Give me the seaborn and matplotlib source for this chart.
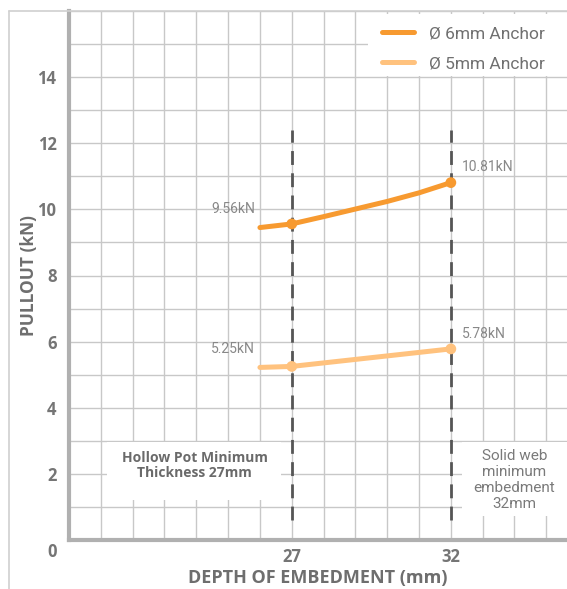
import matplotlib
matplotlib.use("Agg")
import matplotlib.pyplot as plt
import matplotlib.transforms as mtransforms
from matplotlib.patches import Rectangle
from matplotlib.lines import Line2D
import numpy as np
import pandas as pd
import seaborn as sns

# Pull-out curves (depth in mm, load in kN)
depth_6mm = [26, 27, 28, 29, 30, 31, 32]
pullout_6mm = [9.45, 9.56, 9.78, 10.01, 10.24, 10.50, 10.81]
depth_5mm = [26, 27, 32]
pullout_5mm = [5.22, 5.25, 5.78]

# Tested points that carry a value label
key_depths = [27, 32]
key_6mm = [9.56, 10.81]
key_5mm = [5.25, 5.78]

series_names = ["Ø 6mm Anchor", "Ø 5mm Anchor"]
x_ticks = [27, 32]
y_ticks = [0, 2, 4, 6, 8, 10, 12, 14]

C6 = "#F79A30"
C5 = "#FFC27E"
GRID = "#c8c8c8"
SPINE = "#b0b0b0"
TXT = "#757575"
BOLD_FONT = ["Open Sans", "DejaVu Sans"]

sns.set_theme(style="white")
plt.rcParams["font.family"] = ["Roboto", "DejaVu Sans"]

fig = plt.figure(figsize=(5.67, 5.89), dpi=100)
ax = fig.add_axes([69 / 567, 49 / 589, 1 - 69 / 567, (540 - 11) / 589])

curves = pd.concat([
    pd.DataFrame({"depth": depth_6mm, "pullout": pullout_6mm, "anchor": series_names[0]}),
    pd.DataFrame({"depth": depth_5mm, "pullout": pullout_5mm, "anchor": series_names[1]}),
])
points = pd.concat([
    pd.DataFrame({"depth": key_depths, "pullout": key_6mm, "anchor": series_names[0]}),
    pd.DataFrame({"depth": key_depths, "pullout": key_5mm, "anchor": series_names[1]}),
])
palette = {series_names[0]: C6, series_names[1]: C5}

sns.lineplot(data=curves, x="depth", y="pullout", hue="anchor", palette=palette,
             linewidth=3.6, ax=ax, zorder=4, sort=True, estimator=None, legend=False)
sns.scatterplot(data=points, x="depth", y="pullout", hue="anchor", palette=palette,
                s=60, edgecolor="none", ax=ax, zorder=5, legend=False)

ax.set_xlim(20, 35.65)
ax.set_ylim(0, 16)
ax.set_xticks(x_ticks)
ax.set_yticks(y_ticks)
ax.set_xticks(np.arange(20, 36, 1), minor=True)
ax.set_yticks(np.arange(0, 17, 1), minor=True)
ax.grid(which="both", color=GRID, linewidth=1.0, zorder=0)
ax.set_axisbelow(True)
ax.tick_params(which="both", length=0)
ax.tick_params(axis="y", pad=9, labelsize=12, labelcolor=TXT)
ax.tick_params(axis="x", pad=6, labelsize=12, labelcolor=TXT)
for lab in ax.get_xticklabels() + ax.get_yticklabels():
    lab.set_fontweight("bold")
    lab.set_family(BOLD_FONT)
# nudge the "0" label slightly below the baseline
zero = ax.yaxis.get_major_ticks()[0].label1
zero.set_transform(zero.get_transform() + mtransforms.ScaledTranslation(0, -10 / 100, fig.dpi_scale_trans))

for side in ["top", "right"]:
    ax.spines[side].set_visible(False)
for side in ["left", "bottom"]:
    ax.spines[side].set_color(SPINE)
    ax.spines[side].set_linewidth(3)

ax.set_xlabel("DEPTH OF EMBEDMENT (mm)", fontsize=13, fontweight="bold", color="#6e6e6e",
              family=BOLD_FONT, labelpad=2)
ax.set_ylabel("PULLOUT (kN)", fontsize=12.5, fontweight="bold", color="#6e6e6e", family=BOLD_FONT)
ax.yaxis.set_label_coords(-31 / 498, 0.5)

# reference depths
for d in x_ticks:
    ax.plot([d, d], [0.6, 12.4], color="#555555", linewidth=2, dashes=(5, 3), zorder=3)

# note boxes
ax.add_patch(Rectangle((21.2, 1.21), 26.67 - 21.2, 2.97 - 1.21, facecolor="white", edgecolor="none", zorder=1))
ax.text(23.95, 2.25, "Hollow Pot Minimum\nThickness 27mm", ha="center", va="center",
        fontsize=10, fontweight="bold", family=BOLD_FONT, color="#6a6a6a", linespacing=1.1, zorder=2)
ax.add_patch(Rectangle((32.36, 0.73), 35.65 - 32.36, 2.97 - 0.73, facecolor="white", edgecolor="none", zorder=1))
ax.text(34.0, 1.82, "Solid web\nminimum\nembedment\n32mm", ha="center", va="center",
        fontsize=11, color="#7a7a7a", linespacing=1.2, zorder=2)

# value labels
lbl = dict(fontsize=10, color="#888888", zorder=6)
ax.text(25.85, 10.0, f"{key_6mm[0]:.2f}kN", ha="right", va="center", **lbl)
ax.text(32.35, 11.27, f"{key_6mm[1]:.2f}kN", ha="left", va="center", **lbl)
ax.text(25.85, 5.78, f"{key_5mm[0]:.2f}kN", ha="right", va="center", **lbl)
ax.text(32.35, 6.23, f"{key_5mm[1]:.2f}kN", ha="left", va="center", **lbl)

# legend on a white panel reaching the right edge
ax.add_patch(Rectangle(((368 - 69) / 498, (540 - 76) / 529), 1 - (368 - 69) / 498, (76 - 14) / 529,
                       transform=ax.transAxes, facecolor="white", edgecolor="none", zorder=6))
handles = [Line2D([], [], color=C6, linewidth=3.6), Line2D([], [], color=C5, linewidth=3.6)]
leg = ax.legend(handles, series_names, loc="upper right", bbox_to_anchor=(1 - 22 / 498, 1 - 15 / 529),
                frameon=False, prop={"family": ["Roboto", "DejaVu Sans"], "size": 12.5},
                handlelength=1.84, handletextpad=0.86, labelspacing=0.85,
                borderpad=0.0, borderaxespad=0.0)
for t in leg.get_texts():
    t.set_color("#707070")
leg.set_zorder(7)

# outer frame lines
fig.add_artist(Line2D([8.5 / 567, 8.5 / 567], [0, 1 - 11 / 589], color="#d0d0d0", linewidth=1.2))
fig.add_artist(Line2D([8.5 / 567, 1], [1 - 11 / 589, 1 - 11 / 589], color="#d0d0d0", linewidth=1.2))

fig.savefig("out.png", dpi=100)
